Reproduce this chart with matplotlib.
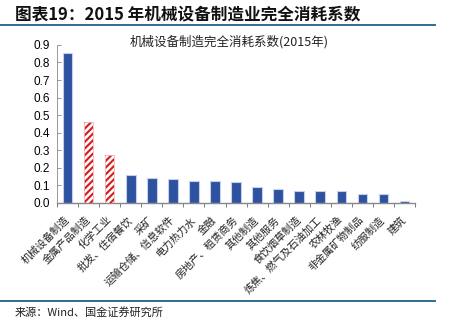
import numpy as np
import matplotlib
matplotlib.use('Agg')
import matplotlib.pyplot as plt
from matplotlib.lines import Line2D

plt.rcParams['font.family'] = ['Noto Sans CJK SC', 'DejaVu Sans']
plt.rcParams['hatch.linewidth'] = 1.5

categories = ['机械设备制造', '金属产品制造', '化学工业', '批发、住宿餐饮', '采矿',
              '运输仓储、信息软件', '电力热力水', '金融', '房地产、租赁商务', '其他制造',
              '其他服务', '食饮烟草制造', '炼焦、燃气及石油加工', '农林牧渔',
              '非金属矿物制品', '纺服制造', '建筑']
values = [0.854, 0.463, 0.275, 0.158, 0.142, 0.138, 0.123, 0.123, 0.120, 0.089,
          0.080, 0.070, 0.070, 0.066, 0.053, 0.049, 0.013]
highlight = ['金属产品制造', '化学工业']

blue = '#2E52A0'
red = '#D7191C'

fig = plt.figure(figsize=(4.5, 3.3), dpi=100)
ax = fig.add_axes([0.127, 0.385, 0.795, 0.479])

x = np.arange(len(categories))
for xi, name, v in zip(x, categories, values):
    if name in highlight:
        ax.bar(xi, v, width=0.45, color='white', edgecolor=red, hatch='/////', linewidth=0)
        ax.bar(xi, v, width=0.45, color='none', edgecolor='#F2B8B8', linewidth=0.6)
    else:
        ax.bar(xi, v, width=0.45, color=blue, edgecolor='#C5D0EA', linewidth=0.8)

ax.set_xlim(-0.5, len(categories) - 0.5)
ax.set_ylim(0, 0.9)
yt = np.arange(0, 0.91, 0.1)
ax.set_yticks(yt)
ax.set_yticklabels(['%.1f' % t for t in yt], fontfamily='Liberation Sans', fontsize=8.5)
ax.tick_params(axis='y', direction='in', length=3, width=0.6, color='#888888', pad=5)

# category names hang from the tick, rotated 45 degrees
ax.set_xticks(x)
ax.set_xticklabels(categories, rotation=45, ha='right', va='center',
                   rotation_mode='anchor', fontsize=7.5, color='#222222')
ax.set_xticks(np.arange(-0.5, len(categories), 1), minor=True)
ax.tick_params(axis='x', which='major', length=0, pad=11)
ax.tick_params(axis='x', which='minor', direction='out', length=3, width=0.6, color='#666666')

for side in ['top', 'right']:
    ax.spines[side].set_visible(False)
ax.spines['left'].set_color('#888888')
ax.spines['left'].set_linewidth(0.6)
ax.spines['bottom'].set_color('#888888')
ax.spines['bottom'].set_linewidth(1.0)

fig.text(0.509, 0.872, '机械设备制造完全消耗系数(2015年)', fontsize=9,
         ha='center', va='center', color='#222222')

fig.text(0.033, 0.955, '图表19：2015 年机械设备制造业完全消耗系数', fontsize=12,
         fontweight='bold', va='center', ha='left', color='#111111')
fig.add_artist(Line2D([0, 0.967], [0.924, 0.924], color='#2F6E8C', linewidth=1.4))
fig.add_artist(Line2D([0, 0.967], [0.087, 0.087], color='#2F6E8C', linewidth=1.4))
fig.text(0.033, 0.052, '来源：Wind、国金证券研究所', fontsize=8, va='center', ha='left',
         color='#222222')

fig.savefig('out.png', dpi=100)
